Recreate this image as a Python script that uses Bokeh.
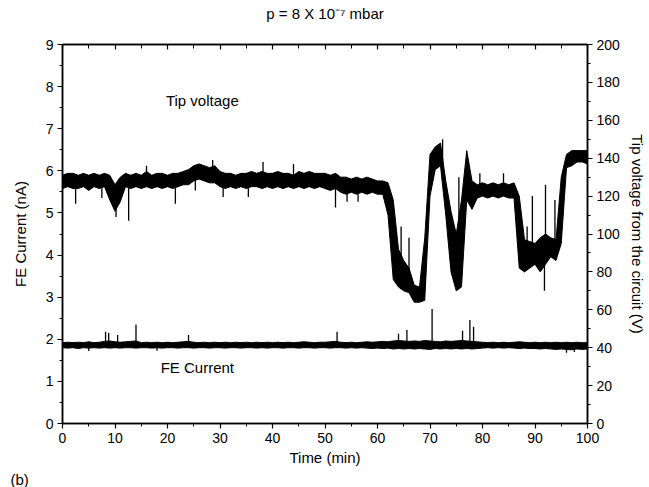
import numpy as np
from bokeh.plotting import figure
from bokeh.models import (Range1d, LinearAxis, SingleIntervalTicker, Label,
                          CustomJSTickFormatter, Title)
from bokeh.embed import file_html
from bokeh.resources import INLINE

# ---------------- data ----------------
minutes = list(range(101))

# Tip voltage envelope (V, right axis), per minute
tip_lo = [124, 125, 124, 124, 125, 123, 125, 124, 125, 118,
          112, 117, 125, 124, 125, 124, 125, 124, 125, 124,
          125, 124, 125, 126, 126, 128, 129, 128, 127, 127,
          125, 124, 125, 124, 125, 124, 125, 125, 124, 125,
          124, 125, 124, 125, 124, 125, 124, 125, 124, 125,
          124, 123, 124, 122, 121, 122, 121, 122, 121, 122,
          121, 121, 110, 76, 72, 70, 69, 64, 64, 65,
          120, 134, 136, 110, 80, 70, 72, 118, 113, 119,
          120, 119, 120, 119, 120, 119, 119, 82, 80, 82,
          84, 80, 84, 88, 86, 95, 135, 136, 138, 138,
          137]
tip_hi = [131, 132, 132, 131, 132, 131, 132, 131, 132, 131,
          126, 130, 132, 131, 132, 131, 133, 131, 132, 132,
          131, 132, 132, 133, 134, 136, 137, 136, 135, 136,
          133, 132, 132, 131, 132, 132, 133, 132, 133, 132,
          132, 133, 132, 132, 131, 133, 132, 133, 132, 132,
          132, 131, 132, 130, 130, 129, 130, 129, 130, 129,
          128, 128, 127, 118, 92, 86, 82, 73, 72, 98,
          142, 146, 148, 128, 112, 100, 118, 144, 128, 126,
          127, 126, 127, 126, 127, 126, 127, 120, 97, 96,
          95, 98, 100, 98, 97, 130, 142, 144, 144, 144,
          144]
tip_spike_t = [2.5, 7.5, 10.2, 12.6, 16.0, 21.5, 25.3, 28.6, 30.6, 35.4,
               38.2, 44.0, 52.0, 54.2, 56.3, 63.5, 64.5, 66.0, 72.4, 75.5,
               79.5, 84.0, 88.5, 89.5, 91.8, 92.0, 93.8]
tip_spike_v = [116, 119, 109, 107, 136, 116, 123, 139, 119.5, 119.5,
               138, 137, 114, 117, 117, 100, 104, 98, 150, 130,
               132, 132, 104, 120, 70, 126, 118]

# FE current envelope (nA, left axis), per minute
fe_lo = [1.80, 1.79, 1.80, 1.78, 1.80, 1.79, 1.80, 1.79, 1.80, 1.79,
         1.80, 1.79, 1.80, 1.80, 1.79, 1.80, 1.80, 1.79, 1.80, 1.79,
         1.80, 1.80, 1.79, 1.80, 1.80, 1.79, 1.80, 1.80, 1.79, 1.80,
         1.80, 1.79, 1.80, 1.80, 1.79, 1.80, 1.80, 1.79, 1.80, 1.79,
         1.80, 1.80, 1.79, 1.80, 1.80, 1.79, 1.80, 1.80, 1.79, 1.80,
         1.80, 1.79, 1.80, 1.80, 1.79, 1.80, 1.79, 1.80, 1.79, 1.78,
         1.79, 1.78, 1.79, 1.77, 1.78, 1.77, 1.78, 1.77, 1.78, 1.77,
         1.76, 1.78, 1.77, 1.78, 1.77, 1.78, 1.77, 1.78, 1.77, 1.78,
         1.79, 1.80, 1.79, 1.80, 1.79, 1.80, 1.79, 1.78, 1.79, 1.78,
         1.78, 1.77, 1.78, 1.77, 1.76, 1.77, 1.76, 1.75, 1.77, 1.76,
         1.77]
fe_hi = [1.92, 1.93, 1.92, 1.93, 1.92, 1.94, 1.92, 1.93, 1.95, 1.96,
         1.94, 1.93, 1.94, 1.95, 1.96, 1.92, 1.93, 1.92, 1.93, 1.92,
         1.93, 1.92, 1.93, 1.94, 1.95, 1.93, 1.92, 1.93, 1.92, 1.93,
         1.92, 1.93, 1.92, 1.93, 1.92, 1.93, 1.92, 1.93, 1.92, 1.93,
         1.92, 1.93, 1.92, 1.93, 1.92, 1.93, 1.94, 1.93, 1.92, 1.93,
         1.93, 1.94, 1.95, 1.93, 1.92, 1.93, 1.92, 1.93, 1.94, 1.93,
         1.94, 1.95, 1.94, 1.96, 1.97, 1.96, 1.95, 1.96, 1.95, 1.97,
         1.96, 1.95, 1.94, 1.96, 1.95, 1.96, 1.97, 1.96, 1.95, 1.94,
         1.93, 1.92, 1.93, 1.92, 1.93, 1.92, 1.93, 1.94, 1.93, 1.92,
         1.93, 1.92, 1.93, 1.92, 1.93, 1.92, 1.93, 1.92, 1.93, 1.92,
         1.92]
fe_spike_t = [5.0, 8.2, 8.8, 10.5, 14.0, 18.0, 24.0, 52.3, 64.0, 65.6,
              70.4, 76.2, 77.6, 78.3, 96.0, 97.5]
fe_spike_v = [1.72, 2.18, 2.15, 2.10, 2.35, 1.73, 2.10, 2.18, 2.13, 2.22,
              2.72, 2.20, 2.46, 2.30, 1.68, 1.70]

x_ticks_interval = 10
left_ticks_interval = 1
right_ticks_interval = 20

FONT = "Liberation Sans"

# ---------------- figure ----------------
p = figure(width=649, height=487, output_backend="svg", toolbar_location=None,
           x_range=Range1d(0, 100), y_range=Range1d(0, 9),
           min_border_left=62, min_border_right=62, min_border_top=44,
           min_border_bottom=63, background_fill_color="white",
           border_fill_color="white")
p.title.visible = False

p.extra_y_ranges = {"volt": Range1d(0, 200)}
p.grid.visible = False
p.outline_line_color = "black"
p.outline_line_width = 1.5

def style_axis(ax):
    ax.axis_line_width = 1.5
    ax.axis_line_color = "black"
    ax.major_tick_line_color = "black"
    ax.minor_tick_line_color = "black"
    ax.major_tick_line_width = 1.2
    ax.minor_tick_line_width = 1.0
    ax.major_tick_out = 5
    ax.major_tick_in = 0
    ax.minor_tick_out = 3
    ax.minor_tick_in = 0
    ax.major_label_text_font = FONT
    ax.major_label_text_font_size = "14px"
    ax.major_label_text_color = "black"
    ax.axis_label_text_font = FONT
    ax.axis_label_text_font_size = "15px"
    ax.axis_label_text_font_style = "normal"
    ax.axis_label_text_color = "black"

xa = p.xaxis[0]
xa.ticker = SingleIntervalTicker(interval=x_ticks_interval, num_minor_ticks=2)
xa.axis_label = "Time (min)"
style_axis(xa)
xa.major_label_standoff = 4
xa.axis_label_standoff = 3

ya = p.yaxis[0]
ya.ticker = SingleIntervalTicker(interval=left_ticks_interval, num_minor_ticks=2)
ya.axis_label = "FE Current (nA)"
style_axis(ya)
ya.major_label_standoff = 4
ya.axis_label_standoff = 14

ra = LinearAxis(y_range_name="volt",
                ticker=SingleIntervalTicker(interval=right_ticks_interval, num_minor_ticks=2),
                axis_label="Tip voltage from the circuit (V)")
style_axis(ra)
ra.major_label_standoff = 4
ra.axis_label_standoff = 6
p.add_layout(ra, "right")

# top border: inward ticks, axis label used as the chart title
ta = LinearAxis(ticker=SingleIntervalTicker(interval=x_ticks_interval, num_minor_ticks=2),
                formatter=CustomJSTickFormatter(code="return ''"),
                axis_label="p = 8 X 10\u207b\u2077 mbar")
style_axis(ta)
ta.major_tick_out = 0
ta.major_tick_in = 5
ta.minor_tick_out = 0
ta.minor_tick_in = 4
ta.major_label_standoff = 0
ta.axis_label_standoff = 23
p.add_layout(ta, "above")

# panel label "(b)" under the x axis, left of the frame
pl = Title(text="(b)", align="left", offset=-52, text_font=FONT,
           text_font_size="15px", text_font_style="normal", text_color="black",
           standoff=0)
p.add_layout(pl, "below")

# ---------------- data glyphs ----------------
p.varea(x=minutes, y1=tip_lo, y2=tip_hi, y_range_name="volt", fill_color="black")
p.line(x=minutes, y=tip_lo, y_range_name="volt", line_color="black", line_width=1)
p.line(x=minutes, y=tip_hi, y_range_name="volt", line_color="black", line_width=1)
tip_mid = (np.array(tip_lo) + np.array(tip_hi)) / 2
tip_base = np.interp(tip_spike_t, minutes, tip_mid)
p.segment(x0=tip_spike_t, y0=tip_base, x1=tip_spike_t, y1=tip_spike_v,
          y_range_name="volt", line_color="black", line_width=1.3)

p.varea(x=minutes, y1=fe_lo, y2=fe_hi, fill_color="black")
p.line(x=minutes, y=fe_lo, line_color="black", line_width=1)
p.line(x=minutes, y=fe_hi, line_color="black", line_width=1)
fe_mid = (np.array(fe_lo) + np.array(fe_hi)) / 2
fe_base = np.interp(fe_spike_t, minutes, fe_mid)
p.segment(x0=fe_spike_t, y0=fe_base, x1=fe_spike_t, y1=fe_spike_v,
          line_color="black", line_width=1.3)

# ---------------- texts ----------------
p.add_layout(Label(x=19.7, y=7.68, text="Tip voltage", text_align="left",
                   text_baseline="middle", text_font=FONT, text_font_size="15px",
                   text_color="black"))
p.add_layout(Label(x=18.7, y=1.33, text="FE Current", text_align="left",
                   text_baseline="middle", text_font=FONT, text_font_size="15px",
                   text_color="black"))

open("out.html", "w").write(file_html(p, INLINE))
